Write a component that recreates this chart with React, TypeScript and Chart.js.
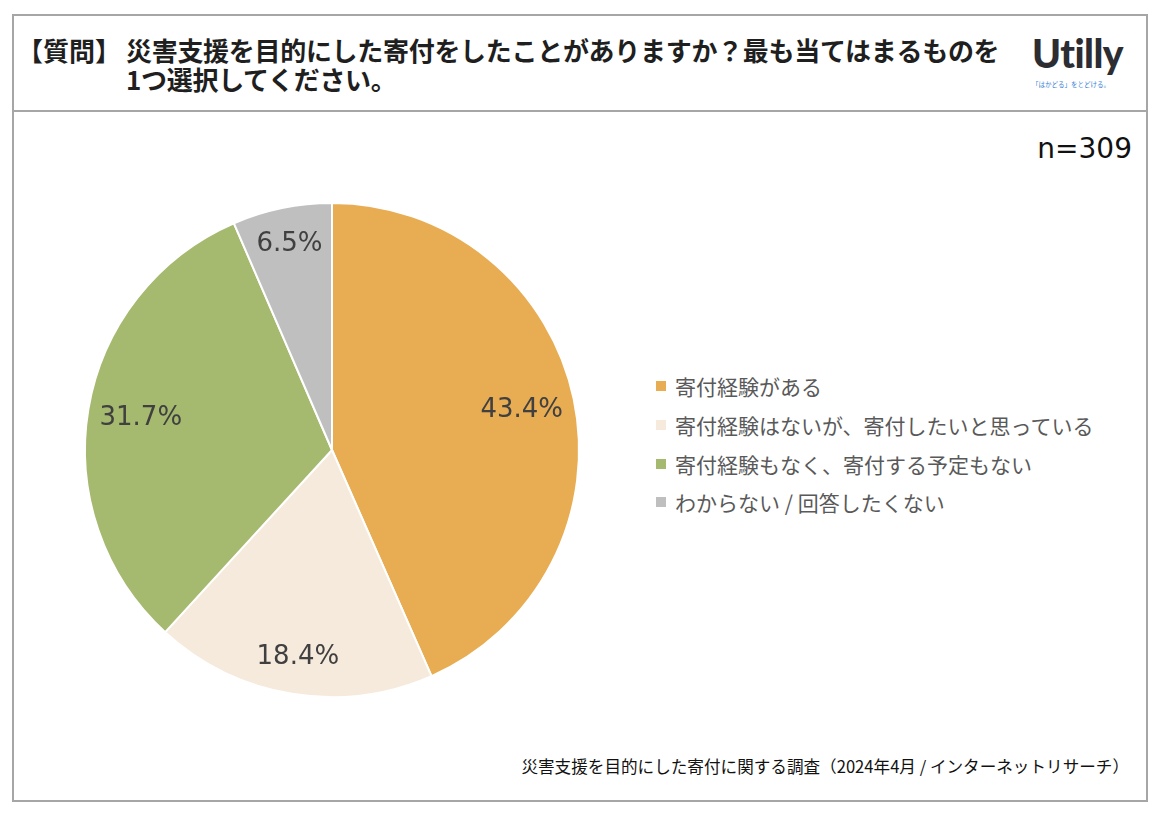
import React, { useEffect, useRef } from "react";
import { Chart, registerables } from "chart.js";

Chart.register(...registerables);

const titleTag = "【質問】";
const titleLines = [
  "災害支援を目的にした寄付をしたことがありますか？最も当てはまるものを",
  "1つ選択してください。",
];
const sampleSize = "n=309";
const sourceNote = "災害支援を目的にした寄付に関する調査（2024年4月 / インターネットリサーチ）";
const categories = [
  "寄付経験がある",
  "寄付経験はないが、寄付したいと思っている",
  "寄付経験もなく、寄付する予定もない",
  "わからない / 回答したくない",
];
const values = [43.4, 18.4, 31.7, 6.5];
const sliceColors = ["#E8AC53", "#F6EADC", "#A5B96F", "#BFBFBF"];

const labelFont = "normal 400 26px 'DejaVu Sans'";

const pieLabels = {
  id: "pieLabels",
  afterDatasetsDraw(chart: any) {
    const ctx = chart.ctx;
    const meta = chart.getDatasetMeta(0);
    const data = chart.data.datasets[0].data as number[];
    ctx.save();
    ctx.font = labelFont;
    ctx.fillStyle = "#404040";
    ctx.textAlign = "center";
    ctx.textBaseline = "middle";
    meta.data.forEach((arc: any, i: number) => {
      const p = arc.getProps(["x", "y", "startAngle", "endAngle", "outerRadius"], true);
      const mid = (p.startAngle + p.endAngle) / 2;
      const f = data[i] < 20 ? 0.85 : 0.785;
      const r = p.outerRadius * f;
      ctx.fillText(data[i].toFixed(1) + "%", p.x + Math.cos(mid) * r, p.y + Math.sin(mid) * r);
    });
    ctx.restore();
  },
};

export default function App() {
  const ref = useRef<HTMLCanvasElement | null>(null);
  useEffect(() => {
    if (!ref.current) return;
    const chart = new Chart(ref.current, {
      type: "pie",
      data: {
        labels: categories,
        datasets: [
          {
            data: values,
            backgroundColor: sliceColors,
            borderColor: "#ffffff",
            borderWidth: 2,
          },
        ],
      },
      options: {
        responsive: false,
        animation: false,
        layout: { padding: 22 },
        plugins: {
          legend: { display: false },
          tooltip: { enabled: false },
        },
      },
      plugins: [pieLabels],
    });
    return () => chart.destroy();
  }, []);

  const jp = '"Noto Sans CJK JP", "Noto Sans", sans-serif';

  return (
    <div style={{ position: "absolute", left: 0, top: 0, width: 1162, height: 814, background: "#fff", fontFamily: jp }}>
      <div
        style={{
          position: "absolute",
          left: 12,
          top: 14,
          width: 1136,
          height: 788,
          border: "2px solid #A6A6A6",
          boxSizing: "border-box",
        }}
      />
      <div style={{ position: "absolute", left: 12, top: 110, width: 1136, height: 2, background: "#A6A6A6" }} />
      <div
        style={{
          position: "absolute",
          left: 17,
          top: 35,
          fontSize: 26,
          fontWeight: 700,
          lineHeight: "30px",
          color: "#1f1f1f",
          whiteSpace: "nowrap",
        }}
      >
        {titleTag}
      </div>
      <div
        style={{
          position: "absolute",
          left: 126,
          top: 35,
          fontSize: 26,
          fontWeight: 700,
          lineHeight: "29px",
          color: "#1f1f1f",
          whiteSpace: "nowrap",
          letterSpacing: -0.3,
        }}
      >
        {titleLines.map((t, i) => (
          <div key={i}>{t}</div>
        ))}
      </div>
      <div
        style={{
          position: "absolute",
          left: 1032,
          top: 29,
          fontFamily: "Lato, sans-serif",
          fontWeight: 900,
          fontSize: 39,
          letterSpacing: -0.5,
          color: "#2B2D33",
          lineHeight: "48px",
        }}
      >
        Utilly
      </div>
      <div
        style={{
          position: "absolute",
          left: 1032,
          top: 79,
          fontSize: 6.5,
          color: "#3C82D6",
          whiteSpace: "nowrap",
          lineHeight: "10px",
        }}
      >
        「はかどる」をとどける。
      </div>
      <div
        style={{
          position: "absolute",
          right: 1162 - 1132,
          top: 131,
          fontFamily: '"DejaVu Sans", sans-serif',
          fontSize: 28,
          color: "#111",
          lineHeight: "36px",
        }}
      >
        {sampleSize}
      </div>
      <canvas
        ref={ref}
        width={540}
        height={540}
        style={{ position: "absolute", left: 62, top: 180, width: 540, height: 540 }}
      />
      <div style={{ position: "absolute", left: 656, top: 367 }}>
        {categories.map((c, i) => (
          <div key={i} style={{ display: "flex", alignItems: "center", height: 38.7 }}>
            <span
              style={{
                display: "inline-block",
                width: 10,
                height: 10,
                background: sliceColors[i],
                marginRight: 9,
              }}
            />
            <span style={{ fontSize: 21, color: "#595959", whiteSpace: "pre" }}>{c}</span>
          </div>
        ))}
      </div>
      <div
        style={{
          position: "absolute",
          right: 1162 - 1129,
          top: 754,
          fontSize: 16.6,
          color: "#111",
          whiteSpace: "nowrap",
          lineHeight: "24px",
        }}
      >
        {sourceNote}
      </div>
    </div>
  );
}
